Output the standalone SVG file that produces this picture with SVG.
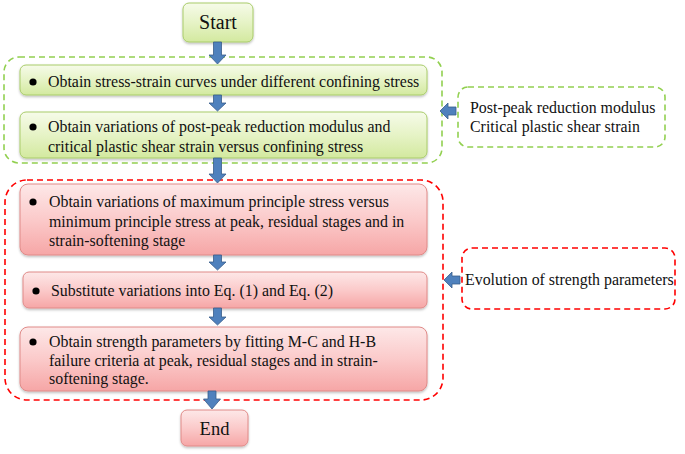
<svg xmlns="http://www.w3.org/2000/svg" width="685" height="454" viewBox="0 0 685 454" font-family="'Liberation Serif', 'Times New Roman', serif">
<defs>
<linearGradient id="gg" x1="0" y1="0" x2="0" y2="1">
<stop offset="0" stop-color="#f6fbe9"/>
<stop offset="0.5" stop-color="#e6f3c6"/>
<stop offset="1" stop-color="#d3e99f"/>
</linearGradient>
<linearGradient id="rg" x1="0" y1="0" x2="0" y2="1">
<stop offset="0" stop-color="#fde8e8"/>
<stop offset="0.5" stop-color="#fbcaca"/>
<stop offset="1" stop-color="#f6a6a6"/>
</linearGradient>
<filter id="sh" x="-5%" y="-10%" width="110%" height="130%">
<feDropShadow dx="0" dy="1.5" stdDeviation="1" flood-color="#000" flood-opacity="0.25"/>
</filter>
</defs>
<style>
.gbox{fill:url(#gg);stroke:#a9cc6a;stroke-width:1;filter:url(#sh)}
.rbox{fill:url(#rg);stroke:#e08a88;stroke-width:1;filter:url(#sh)}
.gdash{fill:none;stroke:#92d050;stroke-width:1.6;stroke-dasharray:6 4}
.rdash{fill:none;stroke:#ff0000;stroke-width:1.6;stroke-dasharray:6 4}
.arr{fill:#4f81bd;stroke:#385d8a;stroke-width:0.8}
.t{font-family:'Liberation Serif','Times New Roman',serif;font-size:15.9px;fill:#111}
.big{font-size:20px}
.end{font-size:18.5px}
</style>

<g id="group-green">
<rect class="gdash" x="4" y="57" width="438" height="106" rx="15"/>
</g>
<g id="group-red">
<rect class="rdash" x="5" y="180" width="438" height="220" rx="22"/>
</g>

<g id="start">
<rect class="gbox" x="183" y="3" width="70" height="39" rx="6"/>
<text class="t big" x="218" y="29" text-anchor="middle">Start</text>
</g>

<g id="step1">
<rect class="gbox" x="20" y="65" width="407" height="30" rx="6"/>
<circle cx="33" cy="82" r="3.6" fill="#000"/>
<text class="t" x="48" y="87">Obtain stress-strain curves under different confining stress</text>
</g>

<g id="step2">
<rect class="gbox" x="20" y="112" width="407" height="46" rx="6"/>
<circle cx="33" cy="127" r="3.6" fill="#000"/>
<text class="t" x="48" y="132">Obtain variations of post-peak reduction modulus and</text>
<text class="t" x="48" y="152">critical plastic shear strain versus confining stress</text>
</g>

<g id="note-green">
<rect class="gdash" x="458" y="87" width="207" height="60" rx="10"/>
<text class="t" x="470" y="113">Post-peak reduction modulus</text>
<text class="t" x="470" y="132">Critical plastic shear strain</text>
</g>

<g id="step3">
<rect class="rbox" x="20" y="184" width="407" height="71" rx="8"/>
<circle cx="33" cy="202" r="3.6" fill="#000"/>
<text class="t" x="49" y="207">Obtain variations of maximum principle stress versus</text>
<text class="t" x="49" y="227">minimum principle stress at peak, residual stages and in</text>
<text class="t" x="49" y="246">strain-softening stage</text>
</g>

<g id="step4">
<rect class="rbox" x="23" y="272" width="404" height="36" rx="6"/>
<circle cx="36" cy="291" r="3.6" fill="#000"/>
<text class="t" x="51" y="296">Substitute variations into Eq. (1) and Eq. (2)</text>
</g>

<g id="step5">
<rect class="rbox" x="20" y="327" width="407" height="64" rx="8"/>
<circle cx="33" cy="342" r="3.6" fill="#000"/>
<text class="t" x="49" y="347">Obtain strength parameters by fitting M-C and H-B</text>
<text class="t" x="49" y="366">failure criteria at peak, residual stages and in strain-</text>
<text class="t" x="49" y="384">softening stage.</text>
</g>

<g id="note-red">
<rect class="rdash" x="462" y="248" width="213" height="61" rx="10"/>
<text class="t" x="465" y="285">Evolution of strength parameters</text>
</g>

<g id="end">
<rect class="rbox" x="181" y="410" width="67" height="36" rx="6"/>
<text class="t end" x="214.5" y="435" text-anchor="middle">End</text>
</g>

<g id="connectors">
<path class="arr" d="M213.5,42 h8 v13 h4.5 l-8.5,9 l-8.5,-9 h4.5 z"/>
<path class="arr" d="M213.5,95 h8 v8 h4.5 l-8.5,8 l-8.5,-8 h4.5 z"/>
<path class="arr" d="M213.5,158 h8 v16 h4.5 l-8.5,9 l-8.5,-9 h4.5 z"/>
<path class="arr" d="M213.5,255 h8 v7 h4.5 l-8.5,8 l-8.5,-8 h4.5 z"/>
<path class="arr" d="M213.5,308 h8 v9 h4.5 l-8.5,8 l-8.5,-8 h4.5 z"/>
<path class="arr" d="M208,391 h8 v8 h4.5 l-8.5,10 l-8.5,-10 h4.5 z"/>
<path class="arr" d="M456,107 v8 h-8 v4 l-8,-8 l8,-8 v4 z"/>
<path class="arr" d="M460,276 v8 h-8 v4 l-8,-8 l8,-8 v4 z"/>
</g>
</svg>
